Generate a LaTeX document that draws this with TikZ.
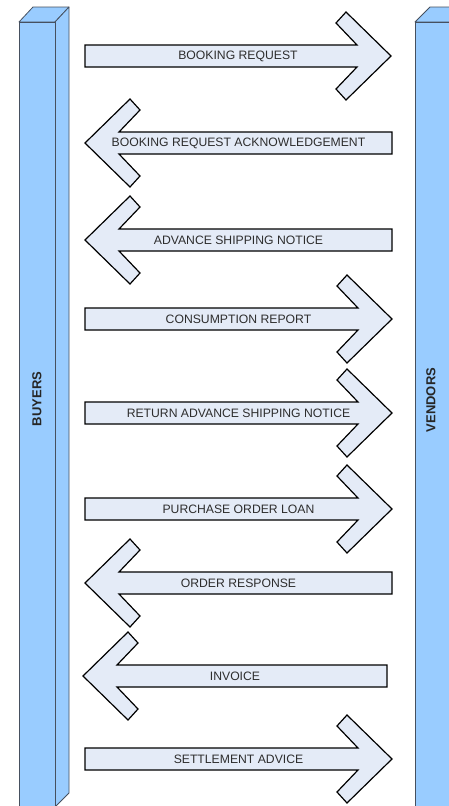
\documentclass[tikz,border=0pt]{standalone}
\usepackage{fontspec}
\setmainfont{Liberation Sans}
\usepackage{xcolor}
\usepackage{tikz}
\usetikzlibrary{calc}

\definecolor{barblue}{RGB}{153,204,255}
\definecolor{baredge}{RGB}{70,80,95}
\definecolor{msgfill}{RGB}{228,235,247}
\definecolor{msgtext}{RGB}{45,45,45}

\tikzset{
    bar/.style={fill=barblue, draw=baredge, line width=0.8pt, line join=round},
    msg/.style={fill=msgfill, draw=black, line width=1.2pt, line join=miter},
    msglabel/.style={text=msgtext, font=\fontsize{12.2}{14}\selectfont, inner sep=0pt},
    barlabel/.style={text=black!85, font=\fontsize{13}{15}\selectfont\bfseries, rotate=90, inner sep=0pt}
}

% #1 = y of the shaft centre, #2 = tail x, #3 = tip x, #4 = text, #5 = node name
\newcommand{\msgright}[5]{%
    \draw[msg] (#2,{#1-11}) -- ({#3-34},{#1-11}) -- ({#3-55},{#1-33}) -- ({#3-45},{#1-44})
        -- (#3,#1) -- ({#3-45},{#1+44}) -- ({#3-55},{#1+33}) -- ({#3-34},{#1+11})
        -- (#2,{#1+11}) -- cycle;
    \node[msglabel] (#5) at ({(#2+#3)/2},#1) {#4};
}
\newcommand{\msgleft}[5]{%
    \draw[msg] (#2,{#1-11}) -- ({#3+34},{#1-11}) -- ({#3+55},{#1-33}) -- ({#3+45},{#1-44})
        -- (#3,#1) -- ({#3+45},{#1+44}) -- ({#3+55},{#1+33}) -- ({#3+34},{#1+11})
        -- (#2,{#1+11}) -- cycle;
    \node[msglabel] (#5) at ({(#2+#3)/2},#1) {#4};
}

\begin{document}
\begin{tikzpicture}[x=1pt, y=-1pt]
    \useasboundingbox (0,0) rectangle (449,806);
    \fill[white] (0,0) rectangle (449,806);

    % buyers bar
    \draw[bar] (19,22) -- (33,7) -- (69,7) -- (55,22) -- cycle;
    \draw[bar] (55,22) -- (69,7) -- (69,793) -- (55,807) -- cycle;
    \draw[bar] (19,22) rectangle (55,810);
    \node[barlabel] (buyers) at (37,399) {BUYERS};

    % vendors bar
    \draw[bar] (415,22) -- (430,7) -- (465,7) -- (452,22) -- cycle;
    \draw[bar] (415,22) rectangle (452,810);
    \node[barlabel] (vendors) at (431,400) {VENDORS};

    % messages
    \msgright{56}{85}{391}{BOOKING REQUEST}{bookreq}
    \msgleft{143}{392}{85}{BOOKING REQUEST ACKNOWLEDGEMENT}{bookack}
    \msgleft{240}{392}{85}{ADVANCE SHIPPING NOTICE}{asn}
    \msgright{319}{85}{392}{CONSUMPTION REPORT}{consrep}
    \msgright{413}{85}{392}{RETURN ADVANCE SHIPPING NOTICE}{retasn}
    \msgright{509}{85}{392}{PURCHASE ORDER LOAN}{poloan}
    \msgleft{583}{392}{85}{ORDER RESPONSE}{ordresp}
    \msgleft{676}{387}{83}{INVOICE}{invoice}
    \msgright{759}{85}{392}{SETTLEMENT ADVICE}{settle}
\end{tikzpicture}
\end{document}
